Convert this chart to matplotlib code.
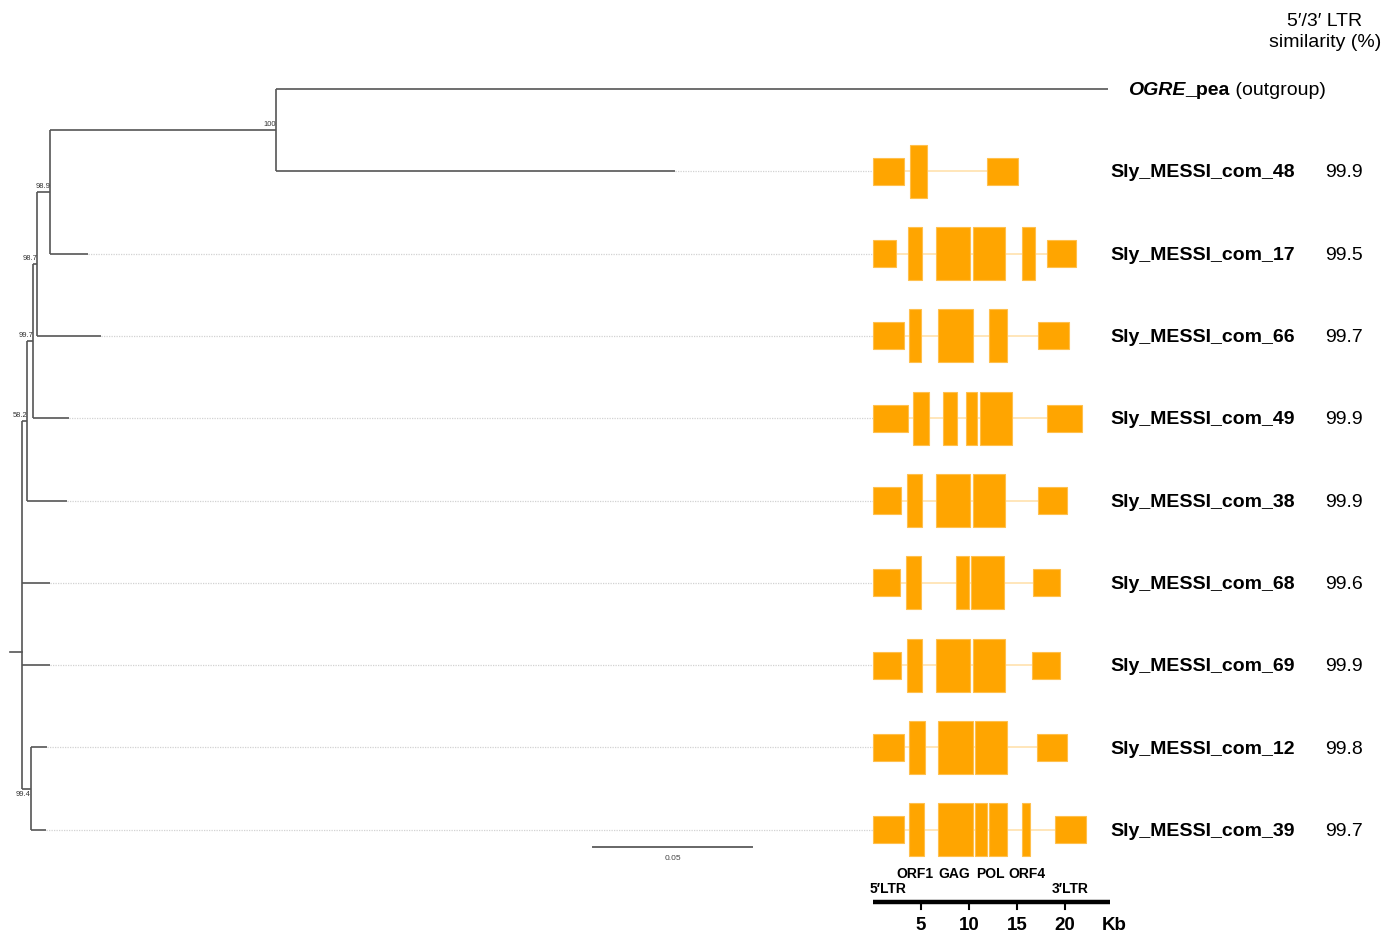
import matplotlib
matplotlib.use("Agg")
import matplotlib.pyplot as plt
from matplotlib import transforms
from matplotlib.patches import Rectangle

plt.rcParams['font.family'] = ['Liberation Sans', 'DejaVu Sans']

# ---------------- data ----------------
TIP_LABELS = ['OGRE_pea', 'Sly_MESSI_com_48', 'Sly_MESSI_com_17', 'Sly_MESSI_com_66',
              'Sly_MESSI_com_49', 'Sly_MESSI_com_38', 'Sly_MESSI_com_68',
              'Sly_MESSI_com_69', 'Sly_MESSI_com_12', 'Sly_MESSI_com_39']
LTR_SIMILARITY = [None, 99.9, 99.5, 99.7, 99.9, 99.9, 99.6, 99.9, 99.8, 99.7]

# tree: nodes 0-9 are tips (rows 0-9), 10-16 internal (10 = root)
PARENT = [15, 15, 14, 13, 12, 11, 10, 10, 16, 16, -1, 10, 11, 12, 13, 14, 10]
BRANCH_LEN = [0.2616, 0.1255, 0.0119, 0.0201, 0.0113, 0.0126, 0.0088, 0.0088, 0.0050, 0.0047,
              0.0, 0.0016, 0.0019, 0.0013, 0.0041, 0.0711, 0.0028]
SUPPORT = [None] * 10 + [None, '58.2', '99.7', '98.7', '98.9', '100', '99.4']
ROOT_STUB = 0.0038
SCALE_BAR = 0.05

# element structures (kb), rows 1-9
LTR5 = [(0, 3.2), (0, 2.35), (0, 3.2), (0, 3.6), (0, 2.9), (0, 2.85), (0, 2.95), (0, 3.2), (0, 3.2)]
LTR3 = [(11.9, 15.1), (18.1, 21.1), (17.2, 20.4), (18.1, 21.8), (17.2, 20.2), (16.7, 19.5),
        (16.55, 19.5), (17.05, 20.25), (19.0, 22.2)]
ORFS = [
    [(3.85, 5.6)],
    [(3.6, 5.1), (6.6, 10.1), (10.4, 13.8), (15.5, 16.9)],
    [(3.75, 5.0), (6.8, 10.4), (12.05, 14.0)],
    [(4.2, 5.8), (7.25, 8.75), (9.65, 10.8), (11.1, 14.5)],
    [(3.5, 5.1), (6.6, 10.1), (10.4, 13.8)],
    [(3.4, 5.0), (8.6, 10.0), (10.25, 13.65)],
    [(3.5, 5.15), (6.6, 10.15), (10.4, 13.8)],
    [(3.75, 5.4), (6.8, 10.4), (10.6, 14.0)],
    [(3.75, 5.35), (6.8, 10.4), (10.6, 11.9), (12.05, 14.0), (15.5, 16.4)],
]
FEATURE_LABELS = ['ORF1', 'GAG', 'POL', 'ORF4']
FEATURE_POS = [4.4, 8.5, 12.2, 16.0]
LTR_LABELS = ['5′LTR', '3′LTR']
LTR_LABEL_POS = [1.6, 20.5]
KB_TICKS = [5, 10, 15, 20]
KB_AXIS_MAX = 24.7

# ---------------- layout ----------------
W, H = 1386, 932
fig = plt.figure(figsize=(W / 100, H / 100), dpi=100)
ROW0, ROW_PX = 89, 82.3
ylim = ((H - ROW0) / ROW_PX, -ROW0 / ROW_PX)

ax_t = fig.add_axes([0, 0, 1, 1])
ax_t.axis('off')
PPU, ROOT_X = 3180.0, 22
ax_t.set_xlim(-ROOT_X / PPU, (W - ROOT_X) / PPU)
ax_t.set_ylim(*ylim)

ax_e = fig.add_axes([0, 0, 1, 1])
ax_e.axis('off')
ax_e.patch.set_alpha(0)
KPX, K0 = 9.6, 873
ax_e.set_xlim(-K0 / KPX, (W - K0) / KPX)
ax_e.set_ylim(*ylim)

# ---------------- tree ----------------
n = len(PARENT)
children = {i: [] for i in range(n)}
for i, p in enumerate(PARENT):
    if p >= 0:
        children[p].append(i)

xpos = [None] * n
def set_x(i, x):
    xpos[i] = x
    for c in children[i]:
        set_x(c, x + BRANCH_LEN[c])
root = PARENT.index(-1)
set_x(root, 0.0)

ypos = [None] * n
def set_y(i):
    if not children[i]:
        ypos[i] = float(i)
    else:
        ys = [set_y(c) for c in children[i]]
        ypos[i] = (min(ys) + max(ys)) / 2
    return ypos[i]
set_y(root)

LC = '#555555'
LW = 1.2
for i in range(n):
    if children[i]:
        ys = [ypos[c] for c in children[i]]
        ax_t.plot([xpos[i], xpos[i]], [min(ys), max(ys)], color=LC, lw=LW, solid_capstyle='butt')
    if PARENT[i] >= 0:
        ax_t.plot([xpos[PARENT[i]], xpos[i]], [ypos[i], ypos[i]], color=LC, lw=LW, solid_capstyle='butt')

ax_t.plot([-ROOT_STUB, 0], [6.84, 6.84], color=LC, lw=LW)

for i in range(n):
    if SUPPORT[i]:
        below = (i == 16)
        ax_t.annotate(SUPPORT[i], (xpos[i], ypos[i]), xytext=(0, -1.5 if below else 1.2),
                      textcoords='offset points', ha='right', va='top' if below else 'bottom',
                      fontsize=5.4, color='#333333')

# dotted extensions to the element drawings
x_disp = ax_e.transData.transform((0, 0))[0]
x_kb0 = ax_t.transData.inverted().transform((x_disp, 0))[0]
for i in range(1, 10):
    ax_t.plot([xpos[i], x_kb0], [ypos[i], ypos[i]], color='#d2d2d2', lw=0.9,
              linestyle=(0, (1, 1)))

# scale bar
sb_x0 = 0.1796
SB_ROW = (847 - ROW0) / ROW_PX
ax_t.plot([sb_x0, sb_x0 + SCALE_BAR], [SB_ROW, SB_ROW], color='#666666', lw=1.4)
ax_t.text(sb_x0 + SCALE_BAR / 2, (859 - ROW0) / ROW_PX, f'{SCALE_BAR:.2f}', ha='center',
          va='center', fontsize=6, color='#444444')

# ---------------- elements ----------------
ORANGE = '#FFA500'
EDGE = '#FFC04D'
H_LTR, H_ORF = 0.33, 0.645
for r in range(9):
    row = r + 1
    ax_e.plot([LTR5[r][1], LTR3[r][0]], [row, row], color='#FFE6BA', lw=1.4, zorder=1)
    for (a, b) in (LTR5[r], LTR3[r]):
        ax_e.add_patch(Rectangle((a, row - H_LTR / 2), b - a, H_LTR, facecolor=ORANGE,
                                 edgecolor=EDGE, lw=0.8, zorder=2))
    for (a, b) in ORFS[r]:
        ax_e.add_patch(Rectangle((a, row - H_ORF / 2), b - a, H_ORF, facecolor=ORANGE,
                                 edgecolor=EDGE, lw=0.8, zorder=2))

# kb axis
AXY = (902 - ROW0) / ROW_PX
ax_e.plot([0, KB_AXIS_MAX], [AXY, AXY], color='black', lw=3.2, solid_capstyle='butt')
for t in KB_TICKS:
    ax_e.plot([t, t], [AXY, AXY + 0.08], color='black', lw=1.5)
    ax_e.text(t, (925 - ROW0) / ROW_PX, str(t), ha='center', va='center',
              fontsize=13.5, fontweight='bold')
ax_e.text(KB_AXIS_MAX + 0.4, (925 - ROW0) / ROW_PX, 'Kb', ha='center', va='center',
          fontsize=13.5, fontweight='bold')
for lab, x in zip(FEATURE_LABELS, FEATURE_POS):
    ax_e.text(x, (874 - ROW0) / ROW_PX, lab, ha='center', va='center', fontsize=10,
              fontweight='bold')
for lab, x in zip(LTR_LABELS, LTR_LABEL_POS):
    ax_e.text(x, (889 - ROW0) / ROW_PX, lab, ha='center', va='center', fontsize=10,
              fontweight='bold')

# ---------------- labels ----------------
TXT_DY = 0.02
btr = transforms.blended_transform_factory(fig.transFigure, ax_e.transData)
for i in range(1, 10):
    ax_e.text(1110 / W, i + TXT_DY, TIP_LABELS[i], transform=btr, ha='left', va='center',
              fontsize=14, fontweight='bold')
    ax_e.text(1325 / W, i + TXT_DY, f'{LTR_SIMILARITY[i]:.1f}', transform=btr, ha='left',
              va='center', fontsize=14)

t1 = ax_e.text(1128 / W, 0 + TXT_DY, 'OGRE', transform=btr, ha='left', va='center',
               fontsize=14, fontweight='bold', fontstyle='italic')
t2 = ax_e.annotate('_pea', xy=(1, 0), xycoords=t1, ha='left', va='bottom', fontsize=14,
                   fontweight='bold')
ax_e.annotate(' (outgroup)', xy=(1, 0), xycoords=t2, ha='left', va='bottom', fontsize=14)

fig.text(1325 / W, 1 - 32 / H, '5′/3′ LTR\nsimilarity (%)', ha='center', va='center',
         multialignment='center', fontsize=14, linespacing=1.35)

fig.savefig('out.png', dpi=100, facecolor='white')
